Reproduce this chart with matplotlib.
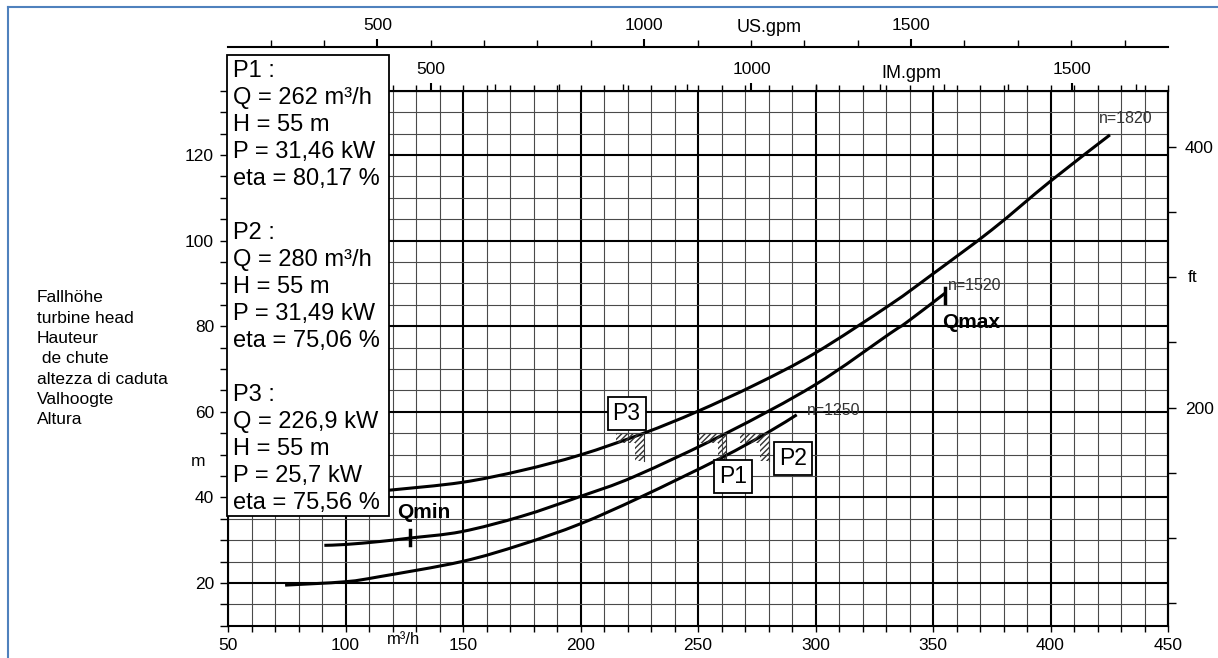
import numpy as np
import matplotlib
matplotlib.use("Agg")
import matplotlib.pyplot as plt
from matplotlib.patches import Polygon, Rectangle, PathPatch
from matplotlib.path import Path
from matplotlib.lines import Line2D
from matplotlib.ticker import MultipleLocator, FixedLocator

plt.rcParams['font.family'] = ['Liberation Sans', 'DejaVu Sans']
plt.rcParams['hatch.linewidth'] = 1.0

# turbine curves, flow in m3/h and head in m
q_1250 = [74.3, 100, 114.7, 149.4, 175, 199.8, 225.3, 259.4, 279.2, 292]
h_1250 = [19.5, 20.3, 21.5, 25.0, 29.0, 33.8, 40.0, 49.1, 55.0, 59.3]
q_1520 = [91, 100, 114.7, 127.4, 149.4, 175, 199.8, 223, 262, 299.8, 331.7, 338.8, 355.1]
h_1520 = [28.8, 29.0, 29.7, 30.5, 32.0, 35.6, 40.2, 44.9, 55.0, 66.3, 78.3, 80.9, 87.7]
q_1820 = [105, 118.9, 149.4, 175, 199.8, 226.9, 249.4, 275, 299.8, 331.7, 349.4, 375, 399.8, 425.3]
h_1820 = [41.0, 41.7, 43.5, 46.3, 49.9, 55.0, 60.0, 66.5, 73.7, 85.0, 92.0, 102.5, 113.8, 124.7]
speed_labels = ['n=1250', 'n=1520', 'n=1820']

# operating points
p_names = ['P1', 'P2', 'P3']
p_flow = [262, 280, 226.9]
p_head = [55, 55, 55]
p_q_txt = ['262 m³/h', '280 m³/h', '226,9 kW']
p_h_txt = ['55 m', '55 m', '55 m']
p_p_txt = ['31,46 kW', '31,49 kW', '25,7 kW']
p_eta_txt = ['80,17 %', '75,06 %', '75,56 %']

# limits on the n=1520 curve
q_min = 127.4
q_max = 355.1

head_names = ['Fallhöhe', 'turbine head', 'Hauteur', ' de chute',
              'altezza di caduta', 'Valhoogte', 'Altura']

US_GPM = 4.402868
IM_GPM = 3.666154
FT = 0.3048

W, H = 1218, 658


def fx(px):
    return px / W


def fy(py):
    return 1 - py / H


def smooth_path(xs, ys):
    # bezier path through the read points (catmull-rom tangents)
    pts = np.column_stack([xs, ys])
    n = len(pts)
    verts = [pts[0]]
    codes = [Path.MOVETO]
    for i in range(n - 1):
        p0 = pts[max(i - 1, 0)]
        p1 = pts[i]
        p2 = pts[i + 1]
        p3 = pts[min(i + 2, n - 1)]
        verts += [p1 + (p2 - p0) / 6, p2 - (p3 - p1) / 6, p2]
        codes += [Path.CURVE4] * 3
    return Path(verts, codes)


fig = plt.figure(figsize=(W / 100, H / 100), dpi=100)
ax = fig.add_axes([fx(228), fy(625.8), 940 / W, 535 / H])
ax.set_xlim(50, 450)
ax.set_ylim(10, 135)

# grid
ax.xaxis.set_major_locator(MultipleLocator(50))
ax.xaxis.set_minor_locator(MultipleLocator(10))
ax.yaxis.set_major_locator(FixedLocator([20, 40, 60, 80, 100, 120]))
ax.yaxis.set_minor_locator(MultipleLocator(5))
ax.grid(which='major', color='black', lw=1.5)
ax.grid(which='minor', color='#4a4a4a', lw=0.8)
ax.set_axisbelow(True)
for s in ax.spines.values():
    s.set_linewidth(1.5)

ax.tick_params(axis='x', which='both', direction='out', length=4, width=1,
               labelsize=12.5, pad=5, top=True)
ax.tick_params(axis='y', which='both', direction='out', length=6, width=1,
               labelsize=12.5, pad=4)

# top axes: US gpm and imperial gpm
sec_us = ax.secondary_xaxis(1.0824, functions=(lambda q: q * US_GPM, lambda g: g / US_GPM))
sec_us.xaxis.set_major_locator(MultipleLocator(500))
sec_us.xaxis.set_minor_locator(MultipleLocator(100))
sec_us.tick_params(which='major', length=6, width=1.5, labelsize=12.5, pad=4)
sec_us.tick_params(which='minor', length=5, width=1)
sec_us.spines['top'].set_linewidth(1.5)

sec_im = ax.secondary_xaxis('top', functions=(lambda q: q * IM_GPM, lambda g: g / IM_GPM))
sec_im.xaxis.set_major_locator(MultipleLocator(500))
sec_im.xaxis.set_minor_locator(MultipleLocator(100))
sec_im.tick_params(which='major', length=6, width=1.5, labelsize=12.5, pad=4)
sec_im.tick_params(which='minor', length=5, width=1)

# right axis in feet
sec_ft = ax.secondary_yaxis('right', functions=(lambda h: h / FT, lambda f: f * FT))
sec_ft.yaxis.set_major_locator(FixedLocator([200, 400]))
sec_ft.yaxis.set_minor_locator(MultipleLocator(50))
sec_ft.tick_params(which='both', length=6, width=1, labelsize=12.5, pad=6)

# curves
for xs, ys in [(q_1250, h_1250), (q_1520, h_1520), (q_1820, h_1820)]:
    ax.add_patch(PathPatch(smooth_path(xs, ys), fill=False, edgecolor='black',
                           lw=2.2, capstyle='butt', zorder=2.5))

ax.text(q_1250[-1] + 4.5, h_1250[-1] + 1.1, speed_labels[0], fontsize=11.5, color='#333333', va='center')
ax.text(q_1520[-1] + 1.3, h_1520[-1] + 1.7, speed_labels[1], fontsize=11.5, color='#333333', va='center')
ax.text(q_1820[-1] - 4.5, h_1820[-1] + 3.9, speed_labels[2], fontsize=11.5, color='#333333', va='center')

# Qmin / Qmax marks
i_min = q_1520.index(q_min)
ax.plot([q_min, q_min], [h_1520[i_min] - 1.7, h_1520[i_min] + 1.8], color='black', lw=2.5)
ax.text(q_min - 5.5, h_1520[i_min] + 5.9, 'Qmin', fontsize=15, fontweight='bold', va='center')
ax.plot([q_max, q_max], [h_1520[-1] - 2.2, h_1520[-1] + 1.3], color='black', lw=2.5)
ax.text(q_max - 1.3, h_1520[-1] - 6.8, 'Qmax', fontsize=15, fontweight='bold', va='center')

# hatched corner markers and their labels
label_off = [(3, -10.2), (10.6, -5.9), (-7.3, 4.6)]
for name, q, h, (dx, dy) in zip(p_names, p_flow, p_head, label_off):
    verts = [(q - 12, h), (q, h), (q, h - 6.5), (q - 3.5, h - 6.5), (q - 3.5, h - 2.2), (q - 12, h - 2.2)]
    ax.add_patch(Polygon(verts, closed=True, facecolor='none', edgecolor='#333333',
                         hatch='//////', lw=0, zorder=3))
    ax.plot([q - 12, q, q], [h, h, h - 6.5], color='#333333', lw=0.8, zorder=3)
    ax.text(q + dx, h + dy, name, fontsize=16.5, ha='center', va='center', zorder=5,
            bbox=dict(boxstyle='square,pad=0.22', fc='white', ec='black', lw=1.3))

# axis texts
fig.text(fx(404), fy(640), 'm³/h', fontsize=12, ha='center', va='center')
fig.text(fx(769), fy(28), 'US.gpm', fontsize=13, ha='center', va='center')
fig.text(fx(911), fy(73), 'IM.gpm', fontsize=13, ha='center', va='center')
fig.text(fx(198), fy(462), 'm', fontsize=12.5, ha='center', va='center')
fig.text(fx(1193), fy(278), 'ft', fontsize=12.5, ha='center', va='center')
for i, s in enumerate(head_names):
    fig.text(fx(37), fy(298 + 20.3 * i), s, fontsize=12.5, ha='left', va='center')

# info box
fig.add_artist(Rectangle((fx(227), fy(516)), (389 - 227) / W, (516 - 55) / H,
                         transform=fig.transFigure, facecolor='white',
                         edgecolor='black', lw=1.3, zorder=4))
lines = []
for k in range(3):
    lines += [f'{p_names[k]} :', f'Q = {p_q_txt[k]}', f'H = {p_h_txt[k]}',
              f'P = {p_p_txt[k]}', f'eta = {p_eta_txt[k]}', '']
for i, s in enumerate(lines[:-1]):
    fig.text(fx(233), fy(71 + 27 * i), s, fontsize=17, ha='left', va='center', zorder=5)

# screenshot frame
fig.add_artist(Line2D([fx(8), fx(8)], [0, fy(7)], color='#4f81bd', lw=1.5))
fig.add_artist(Line2D([fx(8), 1], [fy(7), fy(7)], color='#4f81bd', lw=1.5))

fig.savefig('out.png', dpi=100)
